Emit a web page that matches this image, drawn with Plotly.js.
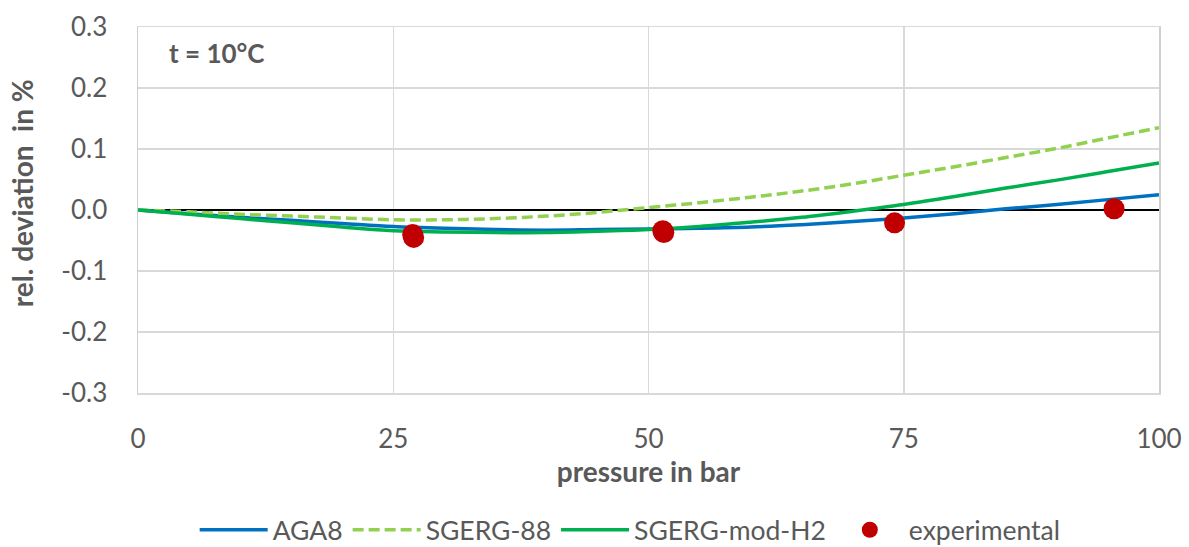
<!DOCTYPE html>
<html><head><meta charset="utf-8">
<script src="https://cdn.plot.ly/plotly-3.0.1.min.js"></script>
<style>html,body{margin:0;padding:0;background:#fff}#chart{width:1189px;height:547px}</style>
</head><body><div id="chart"></div>
<script>
const pressure = [0,5,10,15,20,25,30,35,40,45,50,55,60,65,70,75,80,85,90,95,100];
const aga8 = [0,-0.006,-0.012,-0.017,-0.022,-0.027,-0.030,-0.032,-0.033,-0.032,-0.031,-0.030,-0.028,-0.024,-0.019,-0.013,-0.006,0.002,0.009,0.017,0.025];
const sgerg88 = [0,-0.003,-0.007,-0.010,-0.013,-0.016,-0.016,-0.014,-0.010,-0.004,0.004,0.012,0.021,0.031,0.043,0.057,0.071,0.086,0.101,0.118,0.135];
const sgergModH2 = [0,-0.007,-0.014,-0.021,-0.028,-0.034,-0.036,-0.037,-0.037,-0.035,-0.032,-0.027,-0.020,-0.012,-0.002,0.009,0.022,0.036,0.049,0.063,0.077];
const expPressure = [26.9,27.0,51.4,51.5,74.1,95.6];
const expDeviation = [-0.040,-0.045,-0.034,-0.037,-0.021,0.002];
const yTicks = [-0.3,-0.2,-0.1,0,0.1,0.2,0.3];
const yTickText = ["-0.3","-0.2","-0.1","0.0","0.1","0.2","0.3"];
const xTicks = [0,25,50,75,100];

const FONT = "Lato, 'Open Sans', sans-serif";
const traces = [
  {x: pressure, y: aga8, name: "AGA8", mode: "lines", line: {color: "#0070C0", width: 3.5, shape: "spline"}},
  {x: pressure, y: sgerg88, name: "SGERG-88", mode: "lines", line: {color: "#92D050", width: 3.5, dash: "11px,5px", shape: "spline"}},
  {x: pressure, y: sgergModH2, name: "SGERG-mod-H2", mode: "lines", line: {color: "#00B050", width: 3.5, shape: "spline"}},
  {x: expPressure, y: expDeviation, name: "experimental", mode: "markers", marker: {color: "#C00000", size: 21}}
];
const layout = {
  width: 1189, height: 547,
  margin: {l: 138, r: 30, t: 27, b: 154, autoexpand: false},
  paper_bgcolor: "#fff", plot_bgcolor: "#fff",
  font: {family: FONT, color: "#595959", size: 26},
  showlegend: true,
  legend: {orientation: "h", xref: "container", yref: "container", x: 0.53, xanchor: "center", y: 0.031, yanchor: "middle",
    font: {size: 26.5, color: "#595959"}, itemwidth: 68, traceorder: "normal"},
  xaxis: {range: [0, 100], tickvals: xTicks, showgrid: true, gridcolor: "#D9D9D9", gridwidth: 1.5, zeroline: false,
    showline: true, mirror: true, linecolor: "#D9D9D9", linewidth: 1.5, ticks: "", ticklabelstandoff: 22,
    tickfont: {size: 26, color: "#595959"},
    title: {text: "pressure in bar", font: {size: 28, color: "#595959", weight: "bold"}, standoff: 8}},
  yaxis: {range: [-0.3, 0.3], tickvals: yTicks, ticktext: yTickText, showgrid: true, gridcolor: "#D9D9D9", gridwidth: 1.5,
    zeroline: true, zerolinecolor: "#000", zerolinewidth: 1.5, showline: true, mirror: true, linecolor: "#CFCFCF", linewidth: 1.5,
    ticks: "", ticklabelstandoff: 24, tickfont: {size: 26, color: "#595959"}},
  annotations: [
    {text: "t = 10°C", xref: "paper", yref: "paper", x: 0.028, y: 0.93, xanchor: "left", yanchor: "middle",
      showarrow: false, font: {size: 26, color: "#595959", weight: "bold"}},
    {text: "rel. deviation  in %", xref: "paper", yref: "paper", x: -0.1136, y: 0.546, xanchor: "center", yanchor: "middle",
      textangle: -90, showarrow: false, font: {size: 28, color: "#595959", weight: "bold"}}
  ]
};
Plotly.newPlot("chart", traces, layout, {displayModeBar: false, staticPlot: true});
</script></body></html>
